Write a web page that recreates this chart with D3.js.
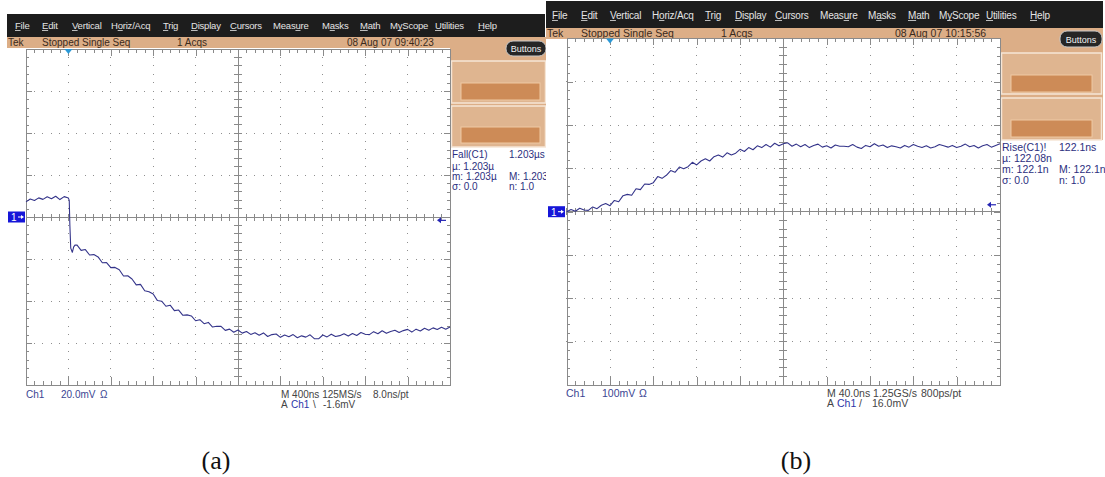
<!DOCTYPE html>
<html>
<head>
<meta charset="utf-8">
<script src="https://cdn.jsdelivr.net/npm/d3@7"></script>
<style>
  body { margin: 0; background: #fff; }
  svg { display: block; font-family: "Liberation Sans", Arial, sans-serif; }
</style>
</head>
<body>
<svg id="chart" width="1105" height="477"></svg>
<script>
// ---- data read off the two scope captures ----
// menu + status text (same menu on both screens)
var menuItems = ["File", "Edit", "Vertical", "Horiz/Acq", "Trig", "Display", "Cursors", "Measure", "Masks", "Math", "MyScope", "Utilities", "Help"];
var menuHotkey = [0, 0, 0, 1, 0, 0, 0, 4, 1, 0, 1, 0, 0];
var statusTextA = ["Tek", "Stopped  Single Seq", "1 Acqs", "08 Aug 07 09:40:23"];
var statusTextB = ["Tek", "Stopped  Single Seq", "1 Acqs", "08 Aug 07 10:15:56"];

// (a) fall, 400 ns/div, 20 mV/div
var timesA = [-400, -360, -320, -280, -240, -200, -160, -120, -80, -40,
  0, 8, 14, 22, 37, 50, 62,
  80, 120, 160, 200, 240, 280, 320, 360, 400, 440,
  480, 520, 560, 600, 640, 680, 720, 760, 800, 840,
  880, 920, 960, 1000, 1040, 1080, 1120, 1160, 1200, 1240,
  1280, 1320, 1360, 1400, 1440, 1480, 1520, 1560, 1600, 1640,
  1680, 1720, 1760, 1800, 1840, 1880, 1920, 1960, 2000, 2040,
  2080, 2120, 2160, 2200, 2240, 2280, 2320, 2360, 2400, 2440,
  2480, 2520, 2560, 2600, 2640, 2680, 2720, 2760, 2800, 2840,
  2880, 2920, 2960, 3000, 3040, 3080, 3120, 3160, 3200, 3240,
  3280, 3320, 3360, 3400, 3440, 3480, 3520, 3560, 3600];
var voltsA = [7.2, 8.6, 7.9, 9.1, 8.4, 9.6, 8.7, 9.9, 8.3, 9.7,
  9.0, 7.9, -4.0, -14.8, -16.8, -14.2, -13.4,
  -13.3, -15.9, -15.5, -18.1, -17.9, -19.0, -21.8, -21.7, -24.1, -24.0,
  -25.1, -28.1, -28.0, -29.5, -32.3, -32.1, -35.1, -35.6, -36.7, -39.8,
  -40.1, -42.5, -42.0, -44.6, -44.3, -46.8, -46.6, -47.1, -49.4, -48.9,
  -50.8, -50.2, -52.4, -52.0, -52.1, -54.0, -53.4, -54.9, -53.8, -55.3,
  -54.5, -55.9, -55.1, -56.3, -55.2, -56.9, -56.0, -55.7, -57.3, -56.2,
  -57.0, -56.0, -57.5, -56.6, -57.2, -56.1, -57.9, -58.0, -56.2, -57.1,
  -55.8, -56.9, -56.5, -55.6, -56.7, -55.5, -56.4, -55.0, -55.8, -56.0,
  -54.6, -55.6, -54.2, -55.4, -54.5, -53.9, -55.0, -54.1, -53.5, -54.8,
  -53.4, -54.3, -53.0, -53.9, -52.8, -53.6, -52.5, -53.4, -52.4];

// (b) rise, 40 ns/div, 100 mV/div
var timesB = [-40, -36, -32, -28, -24, -20, -16, -12, -8, -4,
  0, 4, 8, 12, 16, 20, 24, 28, 32, 36,
  40, 44, 48, 52, 56, 60, 64, 68, 72, 76,
  80, 84, 88, 92, 96, 100, 104, 108, 112, 116,
  120, 124, 128, 132, 136, 140, 144, 148, 152, 156,
  160, 164, 168, 172, 176, 180, 184, 188, 192, 196,
  200, 204, 208, 212, 216, 220, 224, 228, 232, 236,
  240, 244, 248, 252, 256, 260, 264, 268, 272, 276,
  280, 284, 288, 292, 296, 300, 304, 308, 312, 316,
  320, 324, 328, 332, 336, 340, 344, 348, 352, 356,
  360];
var voltsB = [0, 5, 1, 8, 4, 3, 11, 7, 15, 19,
  14, 26, 23, 37, 40, 38, 53, 51, 64, 63,
  67, 81, 77, 84, 95, 91, 103, 99, 104, 114,
  108, 117, 122, 117, 127, 131, 126, 136, 131, 135,
  144, 139, 148, 143, 152, 148, 155, 149, 158, 152,
  157, 159, 151, 156, 150, 155, 148, 153, 156, 149,
  152, 147, 154, 151, 151, 150, 155, 149, 146, 153,
  150, 157, 151, 154, 148, 152, 150, 147, 153, 149,
  155, 151, 148, 152, 147, 150, 155, 152, 149, 153,
  148, 151, 156, 150, 153, 147, 152, 155, 149, 153,
  157];

var measA = [["Fall(C1)", "1.203\u00b5s"], ["\u00b5: 1.203\u00b5", ""], ["m: 1.203\u00b5", "M: 1.203\u00b5"], ["\u03c3: 0.0", "n: 1.0"]];
var measB = [["Rise(C1)!", "122.1ns"], ["\u00b5: 122.08n", ""], ["m: 122.1n", "M: 122.1n"], ["\u03c3: 0.0", "n: 1.0"]];
var chanLabelA = ["Ch1", "20.0mV", "\u03a9"], chanLabelB = ["Ch1", "100mV", "\u03a9"];
var horizLabelA = ["M 400ns 125MS/s", "8.0ns/pt"], horizLabelB = ["M 40.0ns 1.25GS/s", "800ps/pt"];
var trigLabelA = ["A", "Ch1", "\\", "-1.6mV"], trigLabelB = ["A", "Ch1", "/", "16.0mV"];
var trigLevelA = -1.6, trigLevelB = 16.0;
var captions = ["(a)", "(b)"];

// ---- colours ----
var TAN = "#dcae87", BOX = "#dfb590", BTN = "#cd8b57", GRID = "#8a8a8a", DOT = "#8f8f8f";
var TRACE = "#34348a", NAVY = "#2c2f80", BAR = "#1d1d1d";

var svg = d3.select("#chart");
var defs = svg.append("defs");

function drawScope(o) {
  defs.append("clipPath").attr("id", "clip" + o.id).append("rect")
    .attr("x", o.clip[0]).attr("y", 0).attr("width", o.clip[1] - o.clip[0]).attr("height", 477);
  var g = svg.append("g").attr("clip-path", "url(#clip" + o.id + ")");

  var L = o.grid[0], R = o.grid[1], T = o.grid[2], B = o.grid[3];
  var x = d3.scaleLinear().domain(o.tDomain).range([L, R]);
  var y = d3.scaleLinear().domain(o.vDomain).range([B, T]);

  // tan status strip + side panel
  g.append("rect").attr("x", o.bar[0]).attr("y", o.bar[2]).attr("width", o.bar[1] - o.bar[0])
    .attr("height", o.statusBottom - o.bar[2]).attr("fill", TAN);
  var s = o.side;
  g.append("rect").attr("x", s.x0).attr("y", o.bar[2]).attr("width", s.x1 - s.x0)
    .attr("height", s.y1 - o.bar[2]).attr("fill", TAN);
  s.boxes.forEach(function(b, i) {
    g.append("rect").attr("x", s.x0 + 1.5).attr("y", b[0]).attr("width", s.x1 - s.x0 - 3)
      .attr("height", b[1] - b[0]).attr("fill", BOX).attr("stroke", "#f6e6d6").attr("stroke-width", 1.5);
    var by = s.btns[i];
    g.append("rect").attr("x", s.btnX[0]).attr("y", by[0]).attr("width", s.btnX[1] - s.btnX[0])
      .attr("height", by[1] - by[0]).attr("fill", BTN).attr("stroke", "#efc9a3").attr("stroke-width", 1);
  });
  var p = s.pill;
  g.append("rect").attr("x", p[0]).attr("y", p[1]).attr("width", p[2] - p[0]).attr("height", p[3] - p[1])
    .attr("rx", 7).attr("fill", "#262626").attr("stroke", "#c8c8c8").attr("stroke-width", 1);
  g.append("text").attr("x", (p[0] + p[2]) / 2).attr("y", (p[1] + p[3]) / 2 + 3.5)
    .attr("text-anchor", "middle").attr("font-size", 9).attr("fill", "#f2f2f2").text("Buttons");

  // black menu bar
  g.append("rect").attr("x", o.bar[0]).attr("y", o.bar[3]).attr("width", o.bar[1] - o.bar[0])
    .attr("height", o.bar[2] - o.bar[3]).attr("fill", BAR);
  menuItems.forEach(function(m, i) {
    var t = g.append("text").attr("x", o.menuX[i]).attr("y", o.menuY).attr("font-size", o.menuFs)
      .attr("letter-spacing", -0.2).attr("fill", "#e4e4e4").text(m);
    var node = t.node(), k = menuHotkey[i];
    var sx = node.getStartPositionOfChar(k).x, ex = node.getEndPositionOfChar(k).x;
    g.append("line").attr("x1", sx).attr("x2", ex).attr("y1", o.menuY + 1.5).attr("y2", o.menuY + 1.5)
      .attr("stroke", "#e4e4e4").attr("stroke-width", 0.8);
  });
  o.status.forEach(function(txt, i) {
    g.append("text").attr("x", o.statusX[i]).attr("y", o.statusY).attr("font-size", o.fs)
      .attr("fill", "#3a2a1c").text(txt);
  });

  // graticule
  var tDiv = (o.tDomain[1] - o.tDomain[0]) / 10, vDiv = (o.vDomain[1] - o.vDomain[0]) / 8;
  var minorT = d3.range(51).map(function(i) { return o.tDomain[0] + i * tDiv / 5; });
  var majorT = d3.range(11).map(function(i) { return o.tDomain[0] + i * tDiv; });
  var minorV = d3.range(41).map(function(i) { return o.vDomain[0] + i * vDiv / 5; });
  var majorV = d3.range(9).map(function(i) { return o.vDomain[0] + i * vDiv; });
  var tc = majorT[5];

  var dots = g.append("g").attr("fill", DOT).attr("shape-rendering", "crispEdges");
  majorT.slice(1, -1).filter(function(t) { return t !== tc; }).forEach(function(t) {
    minorV.forEach(function(v) {
      dots.append("rect").attr("x", Math.floor(x(t))).attr("y", Math.floor(y(v))).attr("width", 1).attr("height", 1);
    });
  });
  majorV.slice(1, -1).filter(function(v) { return v !== 0; }).forEach(function(v) {
    minorT.forEach(function(t) {
      dots.append("rect").attr("x", Math.floor(x(t))).attr("y", Math.floor(y(v))).attr("width", 1).attr("height", 1);
    });
  });

  function frame(axis, vals, size, tr, keepDomain) {
    var a = g.append("g").attr("transform", tr)
      .call(axis.tickValues(vals).tickSize(size).tickSizeOuter(0).tickFormat(""));
    a.selectAll("line,path").attr("stroke", GRID).attr("shape-rendering", "crispEdges");
    if (!keepDomain) a.select(".domain").remove();
  }
  frame(d3.axisTop(x), minorT, 4, "translate(0," + B + ")", true);
  frame(d3.axisTop(x), majorT, 8, "translate(0," + B + ")", false);
  frame(d3.axisBottom(x), minorT, 4, "translate(0," + T + ")", true);
  frame(d3.axisBottom(x), majorT, 7, "translate(0," + T + ")", false);
  frame(d3.axisRight(y), minorV, 3, "translate(" + L + ",0)", true);
  frame(d3.axisRight(y), majorV, 6, "translate(" + L + ",0)", false);
  frame(d3.axisLeft(y), minorV, 3, "translate(" + R + ",0)", true);
  frame(d3.axisLeft(y), majorV, 6, "translate(" + R + ",0)", false);

  var cross = g.append("g").attr("stroke", GRID).attr("shape-rendering", "crispEdges");
  cross.append("line").attr("x1", L).attr("x2", R).attr("y1", y(0)).attr("y2", y(0));
  cross.append("line").attr("x1", x(tc)).attr("x2", x(tc)).attr("y1", T).attr("y2", B);
  minorT.forEach(function(t) {
    cross.append("line").attr("x1", x(t)).attr("x2", x(t)).attr("y1", y(0) - 3.5).attr("y2", y(0) + 3.5);
  });
  minorV.forEach(function(v) {
    cross.append("line").attr("x1", x(tc) - 4).attr("x2", x(tc) + 4).attr("y1", y(v)).attr("y2", y(v));
  });

  // waveform
  var line = d3.line().x(function(d) { return x(d[0]); }).y(function(d) { return y(d[1]); });
  g.append("path").datum(d3.zip(o.t, o.v)).attr("d", line)
    .attr("fill", "none").attr("stroke", TRACE).attr("stroke-width", 1.1).attr("stroke-linejoin", "round");

  // trigger position marker
  var tx = x(0);
  g.append("path").attr("d", "M" + (tx - 4) + "," + T + "L" + (tx + 4) + "," + T + "L" + tx + "," + (T + 5) + "Z")
    .attr("fill", "#2a98d6");
  // trigger level arrow
  var ly = y(o.trigLevel);
  g.append("path").attr("d", "M" + (R - 13) + "," + ly + "l4,-3v6z").attr("fill", "#2626b4");
  g.append("line").attr("x1", R - 10).attr("x2", R - 4).attr("y1", ly).attr("y2", ly)
    .attr("stroke", "#2626b4").attr("stroke-width", 1.2);
  // channel 1 ground marker
  var cy = y(0), cx = o.chanX;
  g.append("rect").attr("x", cx).attr("y", cy - 5.5).attr("width", 17).attr("height", 11).attr("fill", "#1616d8");
  g.append("text").attr("x", cx + 3).attr("y", cy + 4).attr("font-size", 10).attr("fill", "#fff").text("1");
  g.append("path").attr("d", "M" + (cx + 10) + "," + cy + "h4").attr("stroke", "#fff").attr("stroke-width", 1);
  g.append("path").attr("d", "M" + (cx + 16) + "," + cy + "l-3,-2v4z").attr("fill", "#fff");

  // measurement readout
  o.meas.forEach(function(row, i) {
    row.forEach(function(txt, j) {
      g.append("text").attr("x", o.measX[j]).attr("y", o.measY[i]).attr("font-size", o.fs)
        .attr("fill", NAVY).text(txt);
    });
  });

  // bottom readouts
  var bl = o.bottom;
  o.chanLabel.forEach(function(txt, i) {
    g.append("text").attr("x", bl.chanX[i]).attr("y", bl.y1).attr("font-size", o.fs).attr("fill", "#3a4592").text(txt);
  });
  o.horizLabel.forEach(function(txt, i) {
    g.append("text").attr("x", bl.horizX[i]).attr("y", bl.y1).attr("font-size", o.fs).attr("fill", "#444").text(txt);
  });
  o.trigLabel.forEach(function(txt, i) {
    g.append("text").attr("x", bl.trigX[i]).attr("y", bl.y2).attr("font-size", o.fs)
      .attr("fill", i === 1 ? "#2b35a8" : "#444").text(txt);
  });
}

drawScope({
  id: "A", clip: [0, 546],
  bar: [7, 545, 37, 14], statusBottom: 48,
  menuX: [15, 42, 72, 111, 163, 191, 230, 273, 322, 360, 390, 435, 478], menuY: 29, fs: 10, menuFs: 9.5,
  status: statusTextA, statusX: [8, 42, 177, 347], statusY: 46,
  grid: [26, 450, 49, 385], tDomain: [-400, 3600], vDomain: [-80, 80],
  t: timesA, v: voltsA, trigLevel: trigLevelA, chanX: 8,
  side: { x0: 450, x1: 547, y1: 147, boxes: [[61, 103], [106, 147]], btnX: [461, 540], btns: [[83, 100], [127, 143]], pill: [506, 41, 546, 56] },
  meas: measA, measX: [452, 509], measY: [157.5, 169.5, 179.5, 189.5],
  chanLabel: chanLabelA, horizLabel: horizLabelA, trigLabel: trigLabelA,
  bottom: { y1: 397.5, y2: 407.5, chanX: [26, 61, 100], horizX: [281, 373], trigX: [281, 291, 313, 323] }
});

drawScope({
  id: "B", clip: [546, 1105],
  bar: [545, 1103, 28, 1], statusBottom: 39,
  menuX: [552, 581, 610, 652, 705, 735, 775, 820, 868, 908, 939, 986, 1030], menuY: 19, fs: 10.5, menuFs: 10,
  status: statusTextB, statusX: [547, 581, 721, 895], statusY: 37,
  grid: [566.7, 1000, 38.4, 385], tDomain: [-40, 360], vDomain: [-400, 400],
  t: timesB, v: voltsB, trigLevel: trigLevelB, chanX: 548,
  side: { x0: 1000, x1: 1103, y1: 140, boxes: [[53, 94], [98, 140]], btnX: [1011, 1092], btns: [[75, 92], [120, 137]], pill: [1060, 31, 1102, 47] },
  meas: measB, measX: [1002, 1059], measY: [151, 162, 173, 184],
  chanLabel: chanLabelB, horizLabel: horizLabelB, trigLabel: trigLabelB,
  bottom: { y1: 396.5, y2: 406.5, chanX: [566, 602, 639], horizX: [827, 921], trigX: [827, 837, 859, 872] }
});

// figure captions
svg.selectAll("text.caption").data(captions).enter().append("text")
  .attr("class", "caption")
  .attr("x", function(d, i) { return [216, 796][i]; })
  .attr("y", 469)
  .attr("text-anchor", "middle")
  .attr("font-family", "'Liberation Serif', 'Times New Roman', serif")
  .attr("font-size", 26)
  .attr("fill", "#111")
  .text(function(d) { return d; });
</script>
</body>
</html>
